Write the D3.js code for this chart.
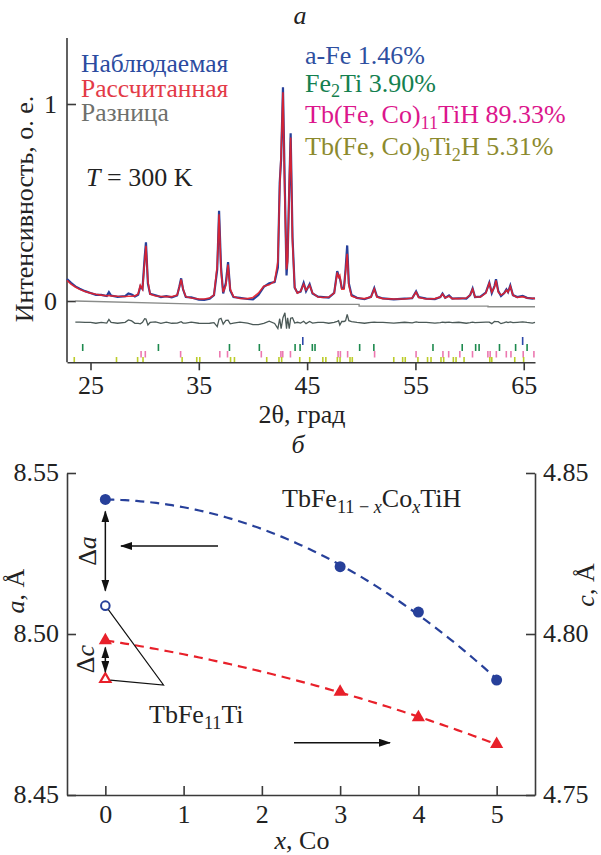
<!DOCTYPE html>
<html><head><meta charset="utf-8">
<script src="https://cdn.jsdelivr.net/npm/d3@7/dist/d3.min.js"></script>
<style>
html,body{margin:0;padding:0;background:#fff;}
svg, svg text{font-family:"Liberation Serif","Tinos","DejaVu Serif","Noto Serif","Times New Roman",serif !important;}
</style></head>
<body><svg id="c" width="601" height="855"></svg>
<script>
// ---------- Panel a: XRD pattern ----------
// [2theta, calculated, observed]
const profile = [
[22.83,0.105,0.112],[23.2,0.086,0.092],[23.6,0.071,0.074],[24.0,0.059,0.062],[24.5,0.048,0.05],
[25.0,0.04,0.041],[25.5,0.034,0.031],[26.0,0.03,0.031],[26.5,0.027,0.025],[26.7,0.028,0.045],
[26.9,0.026,0.028],[27.5,0.024,0.021],[28.2,0.023,0.025],[28.5,0.024,0.038],[28.8,0.024,0.033],
[29.1,0.026,0.023],[29.4,0.036,0.032],[29.6,0.08,0.074],[29.8,0.06,0.062],[30.0,0.2,0.22],
[30.12,0.28,0.298],[30.3,0.1,0.088],[30.5,0.035,0.036],[31.0,0.025,0.029],[31.5,0.023,0.02],
[32.0,0.022,0.025],[32.5,0.022,0.019],[33.0,0.03,0.028],[33.2,0.07,0.072],[33.37,0.11,0.115],
[33.55,0.06,0.058],[33.8,0.022,0.02],[34.3,0.015,0.018],[35.0,0.01,0.007],[35.5,0.01,0.006],
[36.0,0.015,0.012],[36.4,0.03,0.03],[36.7,0.18,0.16],[36.87,0.44,0.458],[37.05,0.15,0.172],
[37.25,0.045,0.038],[37.5,0.08,0.092],[37.7,0.185,0.198],[37.9,0.06,0.054],[38.2,0.022,0.02],
[38.8,0.013,0.016],[39.5,0.012,0.01],[40.0,0.018,0.008],[40.5,0.04,0.03],[41.0,0.075,0.072],
[41.5,0.082,0.09],[42.0,0.1,0.096],[42.3,0.2,0.17],[42.47,0.58,0.6],[42.6,0.75,0.72],
[42.77,1.06,1.085],[42.95,0.5,0.55],[43.1,0.16,0.13],[43.2,0.2,0.225],[43.35,0.6,0.57],
[43.48,0.83,0.852],[43.65,0.3,0.325],[43.85,0.07,0.068],[44.1,0.04,0.042],[44.4,0.05,0.048],
[44.68,0.085,0.092],[44.9,0.055,0.05],[45.23,0.08,0.086],[45.5,0.04,0.038],[46.0,0.02,0.022],
[46.5,0.018,0.02],[47.0,0.02,0.017],[47.5,0.04,0.041],[47.78,0.145,0.152],[47.9,0.12,0.13],
[48.02,0.13,0.118],[48.2,0.06,0.066],[48.4,0.06,0.066],[48.55,0.15,0.16],[48.7,0.24,0.282],
[48.85,0.08,0.09],[49.1,0.025,0.03],[49.6,0.015,0.016],[50.3,0.012,0.009],[50.9,0.02,0.021],
[51.2,0.062,0.065],[51.45,0.02,0.022],[52.0,0.012,0.013],[53.0,0.01,0.008],[54.0,0.01,0.012],
[54.7,0.015,0.014],[55.06,0.045,0.049],[55.3,0.018,0.02],[56.0,0.01,0.012],[56.8,0.012,0.01],
[57.3,0.02,0.02],[57.5,0.035,0.038],[57.75,0.015,0.016],[58.1,0.025,0.028],[58.4,0.012,0.012],
[59.0,0.012,0.014],[59.7,0.015,0.012],[60.05,0.03,0.03],[60.28,0.06,0.063],[60.5,0.02,0.02],
[61.0,0.02,0.022],[61.5,0.04,0.043],[61.82,0.09,0.093],[62.05,0.045,0.04],[62.3,0.07,0.076],
[62.44,0.105,0.11],[62.65,0.045,0.05],[62.9,0.03,0.025],[63.2,0.04,0.04],[63.4,0.055,0.059],
[63.55,0.045,0.045],[63.76,0.075,0.079],[64.0,0.03,0.03],[64.4,0.018,0.02],[64.9,0.022,0.026],
[65.3,0.015,0.016],[65.8,0.014,0.012],[66.04,0.012,0.014]
];
// background/zero reference line [2theta, I]
const baseLine = [[23.6,0.0],[35,-0.016],[49.8,-0.017],[49.8,-0.026],[61.7,-0.026],[61.7,-0.029],[66.04,-0.029]];
const diffOffset = -0.11;
const diffStart = 23.6;
// Bragg reflection positions (2theta)
const braggFe = [44.6, 64.9];
const braggFe2Ti = [24.28,31.27,37.83,40.59,43.89,44.35,45.48,45.73,49.85,51.16,56.62,59.32,60.56,60.88,62.76,64.25,65.31];
const braggTb11 = [29.67,30.06,33.32,36.94,37.65,40.77,42.58,42.75,43.46,47.86,48.07,48.74,51.23,55.06,57.54,58.07,59.10,60.27,61.69,61.90,62.47,63.39,63.82,64.95,65.94];
const braggTb9 = [23.50,27.40,29.35,29.85,33.46,34.81,35.09,37.93,38.29,41.27,42.40,42.65,44.32,45.24,46.45,46.73,47.79,48.04,48.96,49.17,53.00,53.82,54.06,55.23,56.12,56.44,57.36,57.61,58.50,58.75,59.49,61.87,62.05,64.17,64.99];
const xTicksA = [25,35,45,55,65];
const yTicksA = [0,1];
const legendA = ["Наблюдаемая","Рассчитанная","Разница"];
const phaseLegend = [
  [{t:"a-Fe 1.46%"}],
  [{t:"Fe"},{t:"2",sub:true},{t:"Ti 3.90%"}],
  [{t:"Tb(Fe, Co)"},{t:"11",sub:true},{t:"TiH 89.33%"}],
  [{t:"Tb(Fe, Co)"},{t:"9",sub:true},{t:"Ti"},{t:"2",sub:true},{t:"H 5.31%"}]
];

// ---------- Panel b: lattice parameters ----------
const xCo = [0,3,4,5];
const aHydride = [8.5418,8.5209,8.5068,8.4857];
const cHydride = [4.798,4.782,4.7741,4.7658];
const aParent = 8.5088;   // TbFe11Ti, x = 0
const cParent = 4.786;
const xTicksB = [0,1,2,3,4,5];
const aTicks = [8.45,8.50,8.55];
const cTicks = [4.75,4.80,4.85];

const FONT = "Liberation Serif, Tinos, DejaVu Serif, Noto Serif, serif";
const svg = d3.select("#c").attr("font-family",FONT);
const blue = "#27409a", red = "#e8202a", axisCol = "#3a3a3a";

// ===== panel a =====
const xA = d3.scaleLinear().domain([22.83,66.04]).range([67,535]);
const yA = d3.scaleLinear().domain([0,1]).range([301,104]);
const yAtop = 38, yAbot = 362.3;

const gyA = svg.append("g").attr("transform","translate(67,0)")
  .call(d3.axisLeft(yA).tickValues(yTicksA).tickSizeInner(-9).tickSizeOuter(0).tickPadding(10).tickFormat(d3.format("d")));
gyA.select(".domain").attr("d",`M0,${yAtop}V${yAbot}`);
const gxA = svg.append("g").attr("transform",`translate(0,${yAbot})`)
  .call(d3.axisBottom(xA).tickValues(xTicksA).tickSizeInner(8).tickSizeOuter(0).tickPadding(5));
[gyA,gxA].forEach(g=>{
  g.attr("font-family",FONT);
  g.selectAll("path,line").attr("stroke",axisCol).attr("stroke-width",1.6);
  g.selectAll("text").attr("font-size",26).attr("fill","#222");
});

svg.append("path").datum(baseLine.filter(d=>d[0]>=diffStart))
  .attr("d",d3.line().x(d=>xA(d[0])).y(d=>yA(d[1])))
  .attr("fill","none").attr("stroke","#8a8c8a").attr("stroke-width",1.4);

svg.append("path").datum(profile.filter(d=>d[0]>=diffStart))
  .attr("d",d3.line().x(d=>xA(d[0])).y(d=>yA(diffOffset + (d[2]-d[1]))))
  .attr("fill","none").attr("stroke","#4b5957").attr("stroke-width",1.3);

svg.append("path").datum(profile)
  .attr("d",d3.line().x(d=>xA(d[0])).y(d=>yA(d[2])))
  .attr("fill","none").attr("stroke",blue).attr("stroke-width",2.2);
svg.append("path").datum(profile)
  .attr("d",d3.line().x(d=>xA(d[0])).y(d=>yA(d[1])))
  .attr("fill","none").attr("stroke",red).attr("stroke-width",1.6).attr("stroke-opacity",0.9);

const braggRows = [
  {data:braggFe, y0:337, y1:345, col:"#2d48a8"},
  {data:braggFe2Ti, y0:344, y1:351, col:"#1d8a4e"},
  {data:braggTb11, y0:351, y1:357.5, col:"#ec78b0"},
  {data:braggTb9, y0:357, y1:362, col:"#bccc2a"}
];
braggRows.forEach(r=>{
  svg.append("g").selectAll("line").data(r.data).join("line")
    .attr("x1",d=>xA(d)).attr("x2",d=>xA(d)).attr("y1",r.y0).attr("y2",r.y1)
    .attr("stroke",r.col).attr("stroke-width",1.6);
});

function richText(g, segs, opts){
  const t = g.append("text").attr("x",opts.x).attr("y",opts.y).attr("font-family",FONT)
    .attr("font-size",opts.size).attr("fill",opts.fill||"#222")
    .attr("text-anchor",opts.anchor||"start");
  if(opts.transform) t.attr("transform",opts.transform);
  let shift = 0;
  segs.forEach(s=>{
    const sp = t.append("tspan").text(s.t);
    const target = s.sub ? opts.size*0.22 : 0;
    if(target!==shift){ sp.attr("dy",target-shift); shift=target; }
    if(s.sub) sp.attr("font-size",opts.size*0.7);
    if(s.it) sp.attr("font-style","italic");
  });
  return t;
}

svg.append("text").attr("x",300).attr("y",24).attr("text-anchor","middle").attr("font-family",FONT)
  .attr("font-size",26).attr("font-style","italic").attr("fill","#222").text("а");

const legCols = ["#2b4b9f","#e33a47","#6e706c"];
const legY = [72,97,121];
legendA.forEach((s,i)=>{
  svg.append("text").attr("x",81).attr("y",legY[i]).attr("font-family",FONT).attr("font-size",25.5).attr("fill",legCols[i]).text(s);
});
const phaseCols = ["#2e4fa0","#14804f","#dc168c","#8c8a2e"];
const phaseY = [64,91.5,123,155];
phaseLegend.forEach((segs,i)=>richText(svg,segs,{x:305,y:phaseY[i],size:26,fill:phaseCols[i]}));

richText(svg,[{t:"T",it:true},{t:" = 300 K"}],{x:86,y:186,size:26,fill:"#222"});

svg.append("text").attr("transform","translate(33,209) rotate(-90)").attr("text-anchor","middle").attr("font-family",FONT)
  .attr("font-size",26).attr("fill","#222").text("Интенсивность, о. е.");
richText(svg,[{t:"2θ, град"}],{x:302,y:423,size:26,anchor:"middle"});

// ===== panel b =====
const xB = d3.scaleLinear().domain([-0.49,5.49]).range([67,535]);
const yBa = d3.scaleLinear().domain([8.45,8.55]).range([795,473]);
const yBc = d3.scaleLinear().domain([4.75,4.85]).range([795,473]);

const gxB = svg.append("g").attr("transform","translate(0,795)")
  .call(d3.axisBottom(xB).tickValues(xTicksB).tickSizeInner(-9).tickSizeOuter(0).tickPadding(10).tickFormat(d3.format("d")));
const gyBa = svg.append("g").attr("transform","translate(67,0)")
  .call(d3.axisLeft(yBa).tickValues(aTicks).tickSizeInner(-9).tickSizeOuter(0).tickPadding(8).tickFormat(d3.format(".2f")));
const gyBc = svg.append("g").attr("transform","translate(535,0)")
  .call(d3.axisRight(yBc).tickValues(cTicks).tickSizeInner(-9).tickSizeOuter(0).tickPadding(8).tickFormat(d3.format(".2f")));
[gxB,gyBa,gyBc].forEach(g=>{
  g.attr("font-family",FONT);
  g.selectAll("path,line").attr("stroke",axisCol).attr("stroke-width",1.6);
  g.selectAll("text").attr("font-size",26).attr("fill","#222");
});
gyBa.selectAll("text").attr("dy","0.3em");
gyBc.selectAll("text").attr("dy","0.3em");

// least-squares quadratic fit of a series (drawn as dashed trend line)
function quadFit(xs, ys){
  let S=[0,0,0,0,0], T=[0,0,0];
  xs.forEach((x,i)=>{ for(let k=0;k<5;k++) S[k]+=Math.pow(x,k); for(let k=0;k<3;k++) T[k]+=ys[i]*Math.pow(x,k); });
  const M=[[S[0],S[1],S[2],T[0]],[S[1],S[2],S[3],T[1]],[S[2],S[3],S[4],T[2]]];
  for(let i=0;i<3;i++){ for(let j=i+1;j<3;j++){ const f=M[j][i]/M[i][i]; for(let k=i;k<4;k++) M[j][k]-=f*M[i][k]; } }
  const c=[0,0,0];
  for(let i=2;i>=0;i--){ let s=M[i][3]; for(let k=i+1;k<3;k++) s-=M[i][k]*c[k]; c[i]=s/M[i][i]; }
  return x=>c[0]+c[1]*x+c[2]*x*x;
}
const fa = quadFit(xCo,aHydride), fc = quadFit(xCo,cHydride);
const xs = d3.range(0,5.001,0.05);
svg.append("path").datum(xs)
  .attr("d",d3.line().x(d=>xB(d)).y(d=>yBa(fa(d))))
  .attr("fill","none").attr("stroke",blue).attr("stroke-width",2.2).attr("stroke-dasharray","9,6");
svg.append("path").datum(xs)
  .attr("d",d3.line().x(d=>xB(d)).y(d=>yBc(fc(d))))
  .attr("fill","none").attr("stroke",red).attr("stroke-width",2.2).attr("stroke-dasharray","9,6");

const hyd = xCo.map((x,i)=>({x, a:aHydride[i], c:cHydride[i]}));
svg.append("g").selectAll("circle").data(hyd).join("circle")
  .attr("cx",d=>xB(d.x)).attr("cy",d=>yBa(d.a)).attr("r",5.5).attr("fill",blue);
const tri = d3.symbol().type(d3.symbolTriangle).size(75);
svg.append("g").selectAll("path").data(hyd).join("path")
  .attr("d",tri).attr("transform",d=>`translate(${xB(d.x)},${yBc(d.c)})`).attr("fill",red);
svg.append("circle").attr("cx",xB(0)).attr("cy",yBa(aParent)).attr("r",4.3)
  .attr("fill","#fff").attr("stroke",blue).attr("stroke-width",2);
svg.append("path").attr("d",d3.symbol().type(d3.symbolTriangle).size(45))
  .attr("transform",`translate(${xB(0)},${yBc(cParent)})`)
  .attr("fill","#fff").attr("stroke",red).attr("stroke-width",2.2);

const defs = svg.append("defs");
defs.append("marker").attr("id","ah").attr("viewBox","0 0 12 8").attr("refX",11).attr("refY",4)
  .attr("markerWidth",12).attr("markerHeight",8).attr("markerUnits","userSpaceOnUse").attr("orient","auto-start-reverse")
  .append("path").attr("d","M0,0L12,4L0,8Z").attr("fill","#111");
function arrow(x1,y1,x2,y2,both){
  const l = svg.append("line").attr("x1",x1).attr("y1",y1).attr("x2",x2).attr("y2",y2)
    .attr("stroke","#111").attr("stroke-width",1.5).attr("marker-end","url(#ah)");
  if(both) l.attr("marker-start","url(#ah)");
}
const x0 = xB(0);
arrow(x0, yBa(aHydride[0])+12, x0, yBa(aParent)-15, true);
arrow(x0, yBc(cHydride[0])+7, x0, yBc(cParent)-7, true);
arrow(218, 546, 121, 546, false);
arrow(294, 742.7, 390, 742.7, false);

const apex = [163.5, 685];
svg.append("path").attr("d",`M${x0+3},${yBa(aParent)+4}L${apex[0]},${apex[1]}L${x0+5},${yBc(cParent)+1}`)
  .attr("fill","none").attr("stroke","#111").attr("stroke-width",1.2);

svg.append("text").attr("x",298).attr("y",453).attr("text-anchor","middle").attr("font-family",FONT)
  .attr("font-size",26).attr("font-style","italic").attr("fill","#222").text("б");
richText(svg,[{t:"TbFe"},{t:"11 − ",sub:true},{t:"x",sub:true,it:true},{t:"Co"},{t:"x",sub:true,it:true},{t:"TiH"}],
  {x:282,y:507,size:26});
richText(svg,[{t:"TbFe"},{t:"11",sub:true},{t:"Ti"}],{x:149,y:723,size:26});
richText(svg,[{t:"Δ"},{t:"a",it:true}],{x:0,y:0,size:26,anchor:"middle",transform:"translate(96,551) rotate(-90)"});
richText(svg,[{t:"Δ"},{t:"c",it:true}],{x:0,y:0,size:26,anchor:"middle",transform:"translate(94,659) rotate(-90)"});
richText(svg,[{t:"a",it:true},{t:", Å"}],{x:0,y:0,size:26,anchor:"middle",transform:"translate(24,591) rotate(-90)"});
richText(svg,[{t:"c",it:true},{t:", Å"}],{x:0,y:0,size:26,anchor:"middle",transform:"translate(594,585) rotate(-90)"});
richText(svg,[{t:"x",it:true},{t:", Co"}],{x:302,y:849,size:26,anchor:"middle"});
</script></body></html>
